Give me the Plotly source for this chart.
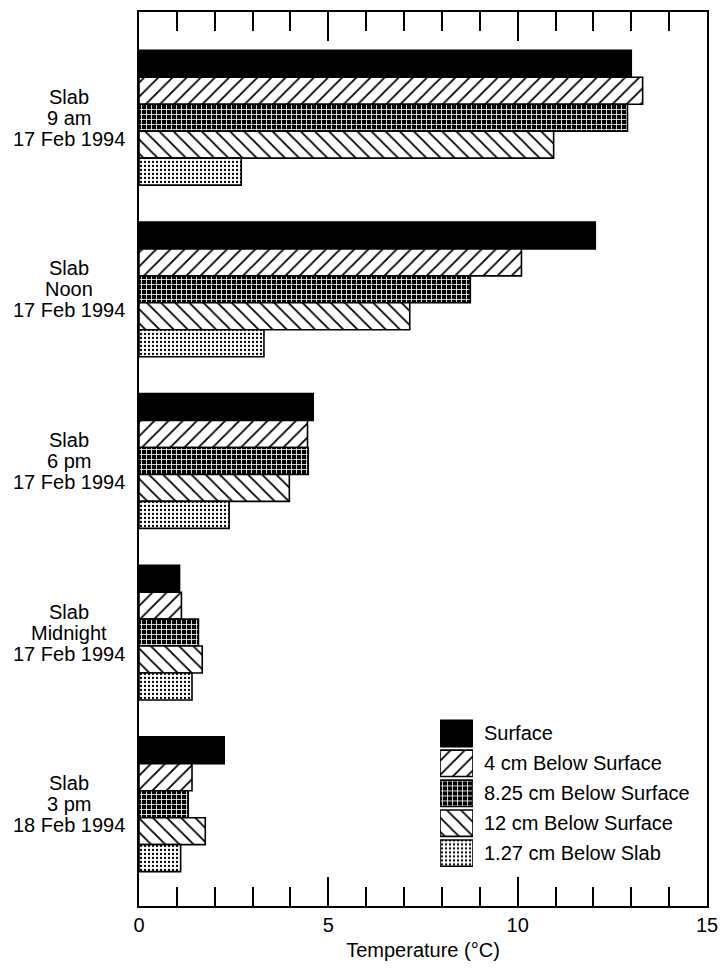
import plotly.graph_objects as go

# Slab temperature profiles, February 1994
time_lines = [
    ["Slab", "9 am", "17 Feb 1994"],
    ["Slab", "Noon", "17 Feb 1994"],
    ["Slab", "6 pm", "17 Feb 1994"],
    ["Slab", "Midnight", "17 Feb 1994"],
    ["Slab", "3 pm", "18 Feb 1994"],
]
depths = [
    "Surface",
    "4 cm Below Surface",
    "8.25 cm Below Surface",
    "12 cm Below Surface",
    "1.27 cm Below Slab",
]
surface = [13.0, 12.05, 4.6, 1.07, 2.25]
below_4cm = [13.3, 10.1, 4.45, 1.12, 1.4]
below_8_25cm = [12.9, 8.75, 4.47, 1.57, 1.3]
below_12cm = [10.95, 7.15, 3.97, 1.67, 1.75]
below_slab = [2.7, 3.3, 2.38, 1.4, 1.1]

series = [surface, below_4cm, below_8_25cm, below_12cm, below_slab]

FAMILY = "Liberation Sans, Arial, Helvetica, sans-serif"
font = dict(family=FAMILY, size=20, color="black")

# Fill style for each depth (black ink on white, like a printed figure)
fills = [
    dict(color="black", pattern=dict(shape="")),
    dict(color="white", pattern=dict(shape="/", fgcolor="black", bgcolor="white",
                                     size=10, solidity=0.18, fillmode="replace")),
    dict(color="black", pattern=dict(shape="+", fgcolor="white", bgcolor="black",
                                     size=5, solidity=0.3, fillmode="replace")),
    dict(color="white", pattern=dict(shape="\\", fgcolor="black", bgcolor="white",
                                     size=10, solidity=0.18, fillmode="replace")),
    dict(color="white", pattern=dict(shape=".", fgcolor="black", bgcolor="white",
                                     size=4, solidity=0.25, fillmode="replace")),
]

ypos = list(range(len(time_lines)))

fig = go.Figure()
for name, vals, f in zip(depths, series, fills):
    fig.add_trace(go.Bar(
        x=vals, y=ypos, orientation="h", name=name,
        marker=dict(color=f["color"], pattern=f["pattern"],
                    line=dict(color="black", width=1.6)),
        showlegend=False,
    ))

# Key: one swatch per depth on a small inset axis, text beside it
key_pos = list(range(len(depths)))
for i, (name, f) in enumerate(zip(depths, fills)):
    fig.add_trace(go.Bar(
        x=[1], y=[key_pos[i]], orientation="h", name=name,
        width=0.88, offset=-0.44,
        marker=dict(color=f["color"], pattern=f["pattern"],
                    line=dict(color="black", width=1.6)),
        xaxis="x2", yaxis="y2", showlegend=False, hoverinfo="skip",
    ))
    fig.add_annotation(
        x=0.6035, y=key_pos[i], xref="paper", yref="y2", text=name,
        showarrow=False, xanchor="left", yanchor="middle",
        font=dict(family=FAMILY, size=20, color="black"),
    )

# Category labels: three centred lines with tight leading
LEADING = 21
for yp, lines in zip(ypos, time_lines):
    for k, line in enumerate(lines):
        fig.add_annotation(
            x=-0.1235, y=yp, xref="paper", yref="y", text=line,
            showarrow=False, xanchor="center", yanchor="middle",
            yshift=(1 - k) * LEADING,
            font=font,
        )

# Tick marks shared by the bottom and top edges of the frame
tick_style = dict(
    range=[0, 15], tickvals=[0, 5, 10, 15],
    ticks="inside", ticklen=29, tickwidth=2, tickcolor="black",
    minor=dict(ticks="inside", ticklen=19, tickwidth=2, tickcolor="black", dtick=1),
    showgrid=False, zeroline=False,
)

# Invisible trace so the top axis is drawn
fig.add_trace(go.Scatter(x=[], y=[], xaxis="x3", yaxis="y", showlegend=False,
                         hoverinfo="skip"))

fig.update_layout(
    width=728, height=968,
    margin=dict(l=139, r=14, t=10, b=62),
    paper_bgcolor="white", plot_bgcolor="white",
    barmode="group", bargap=0.215, bargroupgap=0,
    font=font,
    xaxis=dict(
        **tick_style,
        ticktext=["0", "5", "10", "15"],
        showline=True, linecolor="black", linewidth=2, mirror=True,
        title=dict(text="Temperature (°C)", font=font, standoff=8),
        tickfont=font,
    ),
    xaxis3=dict(
        **tick_style,
        overlaying="x", side="top", anchor="y", showticklabels=False,
        showline=False,
    ),
    yaxis=dict(
        range=[4.593, -0.616], tickvals=ypos, showticklabels=False, ticks="",
        showline=True, linecolor="black", linewidth=2, mirror=True,
        showgrid=False, zeroline=False,
    ),
    xaxis2=dict(domain=[0.530, 0.588], range=[0, 1], visible=False, anchor="y2"),
    yaxis2=dict(domain=[0.0424, 0.2098], range=[4.5, -0.5], visible=False, anchor="x2"),
)

fig.write_html("out.html")
